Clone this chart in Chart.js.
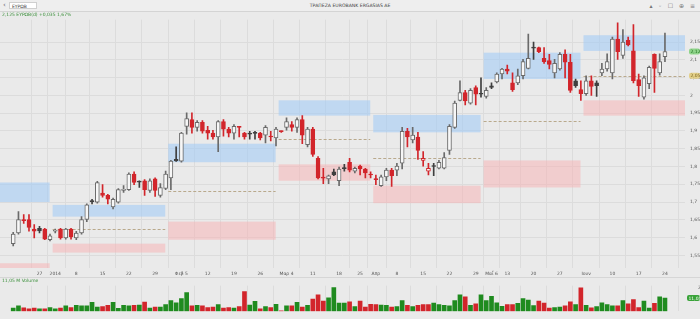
<!DOCTYPE html>
<html>
<head>
<meta charset="utf-8">
<script src="https://cdn.jsdelivr.net/npm/chart.js@4.4.0/dist/chart.umd.min.js"></script>
<style>
  html, body { margin: 0; padding: 0; }
  body { width: 700px; height: 319px; overflow: hidden; background: #eaeaea; font-family: "DejaVu Sans", sans-serif; position: relative; }
  #bar { position: absolute; left: 0; top: 0; width: 700px; height: 11px; background: #eeeeee; border-bottom: 1px solid #d4d4d4; }
  #back { position: absolute; left: 3px; top: 1px; font-size: 7px; color: #666; }
  #search { position: absolute; left: 9px; top: 2px; width: 28px; height: 7px; background: #fff; border: 1px solid #cfcfcf; font-size: 4.5px; line-height: 7px; padding-left: 2px; box-sizing: border-box; color: #444; }
  #title { position: absolute; left: 0; width: 700px; top: 3px; text-align: center; font-size: 4.6px; color: #444; }
  #icons { position: absolute; right: 3px; top: 2px; font-size: 6px; color: #777; letter-spacing: 2px; }
  #quote { position: absolute; left: 2px; top: 12px; font-size: 4.5px; color: #3a8f3a; z-index: 2; }
  canvas { position: absolute; left: 0; display: block; }
  #price { top: 12px; }
  #vol { top: 278px; }
  #sep { position: absolute; left: 0; top: 277px; width: 700px; height: 1px; background: #d6d6d6; }
  #vol-label { position: absolute; left: 2px; top: 278px; font-size: 4.5px; color: #3a8f3a; z-index: 2; }
</style>
</head>
<body>
<div id="bar">
  <span id="back">&#8249;</span>
  <div id="search">ΕΥΡΩΒ</div>
  <div id="title">ΤΡΑΠΕΖΑ EUROBANK ERGASIAS ΑΕ</div>
  <div id="icons">▴ ◦ ☐ ⊕ ≡</div>
</div>
<div id="quote">2,125 ΕΥΡΩΒ(d) +0,035 1,67%</div>
<canvas id="price" width="700" height="266"></canvas>
<div id="sep"></div>
<canvas id="vol" width="700" height="41"></canvas>
<div id="vol-label">11,05 M Volume</div>
<script>
// daily bars, Dec 2013 - Jun 2014
const opens = [
  1.583, 1.613, 1.651, 1.651, 1.624, 1.626, 1.624, 1.594, 1.618, 1.624,
  1.599, 1.624, 1.599, 1.613, 1.651, 1.703, 1.700, 1.725, 1.719, 1.686,
  1.700, 1.733, 1.735, 1.779, 1.757, 1.760, 1.733, 1.765, 1.719, 1.738,
  1.768, 1.820, 1.815, 1.913, 1.932, 1.910, 1.924, 1.902, 1.894, 1.883,
  1.926, 1.905, 1.894, 1.913, 1.894, 1.894, 1.894, 1.894, 1.888, 1.885,
  1.880, 1.899, 1.910, 1.918, 1.910, 1.932, 1.861, 1.905, 1.823, 1.770,
  1.765, 1.785, 1.760, 1.795, 1.812, 1.787, 1.801, 1.793, 1.777, 1.764,
  1.746, 1.771, 1.790, 1.790, 1.809, 1.899, 1.875, 1.883, 1.817, 1.787,
  1.802, 1.795, 1.795, 1.845, 1.910, 1.986, 2.008, 1.978, 2.022, 2.004,
  1.997, 2.027, 2.038, 2.060, 2.074, 2.035, 2.035, 2.055, 2.076, 2.134,
  2.134, 2.104, 2.098, 2.063, 2.074, 2.115, 2.093, 2.041, 2.016, 2.005,
  2.041, 2.035, 2.063, 2.074, 2.063, 2.158, 2.112, 2.155, 2.125, 2.044,
  1.995, 2.033, 2.115, 2.063, 2.109
];
const highs = [
  1.615, 1.673, 1.665, 1.665, 1.637, 1.632, 1.626, 1.610, 1.624, 1.626,
  1.626, 1.626, 1.618, 1.659, 1.695, 1.708, 1.758, 1.749, 1.722, 1.711,
  1.738, 1.746, 1.782, 1.785, 1.760, 1.763, 1.765, 1.768, 1.752, 1.787,
  1.817, 1.855, 1.896, 1.951, 1.951, 1.929, 1.929, 1.913, 1.902, 1.929,
  1.932, 1.910, 1.918, 1.913, 1.896, 1.899, 1.899, 1.896, 1.915, 1.899,
  1.910, 1.900, 1.937, 1.926, 1.937, 1.943, 1.910, 1.910, 1.828, 1.795,
  1.776, 1.793, 1.798, 1.806, 1.823, 1.798, 1.804, 1.795, 1.785, 1.776,
  1.776, 1.795, 1.795, 1.809, 1.910, 1.907, 1.910, 1.896, 1.842, 1.809,
  1.809, 1.817, 1.839, 1.918, 1.984, 2.041, 2.014, 2.019, 2.027, 2.049,
  2.022, 2.035, 2.063, 2.076, 2.085, 2.063, 2.074, 2.101, 2.172, 2.150,
  2.136, 2.134, 2.115, 2.101, 2.120, 2.128, 2.115, 2.046, 2.041, 2.055,
  2.055, 2.041, 2.090, 2.117, 2.164, 2.204, 2.185, 2.164, 2.199, 2.060,
  2.055, 2.082, 2.117, 2.117, 2.175
];
const lows = [
  1.577, 1.610, 1.640, 1.618, 1.599, 1.613, 1.594, 1.591, 1.613, 1.596,
  1.596, 1.596, 1.594, 1.610, 1.645, 1.695, 1.697, 1.714, 1.695, 1.681,
  1.697, 1.727, 1.733, 1.749, 1.741, 1.719, 1.727, 1.716, 1.714, 1.735,
  1.735, 1.814, 1.812, 1.891, 1.894, 1.899, 1.894, 1.877, 1.877, 1.842,
  1.885, 1.883, 1.877, 1.883, 1.877, 1.877, 1.877, 1.875, 1.866, 1.872,
  1.858, 1.896, 1.902, 1.899, 1.896, 1.864, 1.855, 1.828, 1.765, 1.752,
  1.752, 1.774, 1.746, 1.787, 1.785, 1.782, 1.776, 1.768, 1.768, 1.749,
  1.744, 1.760, 1.744, 1.774, 1.793, 1.855, 1.866, 1.820, 1.801, 1.776,
  1.774, 1.793, 1.793, 1.834, 1.907, 1.984, 1.973, 1.975, 1.973, 1.995,
  1.992, 2.019, 2.035, 2.046, 2.060, 2.011, 2.030, 2.046, 2.074, 2.101,
  2.120, 2.090, 2.074, 2.049, 2.071, 2.049, 2.008, 2.022, 1.986, 2.000,
  2.000, 1.997, 2.055, 2.068, 2.046, 2.101, 2.104, 2.139, 2.035, 1.997,
  1.989, 2.019, 2.008, 2.057, 2.095
];
const closes = [
  1.610, 1.651, 1.648, 1.629, 1.618, 1.619, 1.596, 1.605, 1.619, 1.599,
  1.624, 1.602, 1.613, 1.651, 1.692, 1.701, 1.755, 1.719, 1.708, 1.708,
  1.735, 1.736, 1.779, 1.755, 1.756, 1.735, 1.760, 1.733, 1.741, 1.779,
  1.815, 1.816, 1.894, 1.935, 1.910, 1.924, 1.899, 1.894, 1.883, 1.926,
  1.905, 1.894, 1.913, 1.910, 1.883, 1.891, 1.893, 1.880, 1.910, 1.883,
  1.905, 1.898, 1.926, 1.910, 1.932, 1.888, 1.905, 1.834, 1.768, 1.767,
  1.774, 1.776, 1.793, 1.794, 1.790, 1.795, 1.793, 1.782, 1.776, 1.763,
  1.771, 1.790, 1.774, 1.801, 1.899, 1.883, 1.888, 1.845, 1.823, 1.795,
  1.800, 1.812, 1.825, 1.913, 1.978, 2.008, 1.984, 2.014, 2.003, 2.003,
  2.014, 2.022, 2.060, 2.074, 2.068, 2.016, 2.055, 2.095, 2.104, 2.133,
  2.123, 2.095, 2.087, 2.090, 2.115, 2.093, 2.014, 2.027, 2.005, 2.041,
  2.025, 2.027, 2.074, 2.095, 2.158, 2.123, 2.150, 2.142, 2.041, 2.027,
  2.049, 2.079, 2.076, 2.095, 2.123
];
// volume in millions
const volumes = [
  2.7, 4.5, 3.0, 2.1, 2.7, 2.1, 2.1, 3.2, 2.1, 2.7,
  4.5, 3.2, 5.0, 4.5, 4.5, 7.5, 3.6, 3.9, 5.0, 7.5,
  2.5, 5.0, 4.5, 5.0, 5.3, 7.7, 2.7, 3.6, 3.6, 5.7,
  8.9, 7.1, 10.7, 15.7, 4.5, 5.0, 4.5, 3.2, 3.6, 5.7,
  2.7, 3.2, 2.7, 3.9, 16.4, 5.3, 8.4, 2.1, 3.9, 3.2,
  5.9, 0.4, 4.5, 4.5, 7.5, 3.6, 5.0, 10.3, 13.7, 8.5,
  11.2, 19.9, 6.8, 6.8, 8.0, 3.9, 8.5, 3.6, 5.9, 5.7,
  5.3, 5.0, 3.6, 3.9, 8.9, 5.0, 3.9, 5.0, 5.7, 5.7,
  6.8, 5.7, 5.0, 4.5, 8.9, 13.7, 12.1, 5.0, 6.2, 13.7,
  8.9, 12.5, 7.1, 4.1, 5.7, 5.7, 6.6, 10.7, 9.3, 4.8,
  8.5, 6.8, 2.7, 3.2, 3.6, 4.5, 8.0, 5.7, 19.6, 5.0,
  3.0, 3.9, 7.1, 5.7, 4.5, 4.5, 8.9, 6.2, 9.8, 3.2,
  8.5, 2.7, 6.6, 12.1, 11.05
];
// x axis labels (bar index -> text)
const tickBars = [5, 8, 12, 17, 22, 27, 32, 37, 42, 47, 52, 57, 62, 66, 69, 73, 78, 83, 88, 91, 94, 99, 104, 109, 114, 119, 124];
const tickText = ['27', '2014', '8', '15', '22', '29', 'Φεβ 5', '12', '19', '26', 'Μαρ 4', '11', '18', '25', 'Απρ', '8', '15', '22', '29', 'Μαΐ 6', '13', '20', '27', 'Ιουν', '10', '17', '24'];
const priceTicks = [1.55, 1.6, 1.65, 1.7, 1.75, 1.8, 1.85, 1.9, 1.95, 2, 2.05, 2.1, 2.15];

// monthly pivot zones: first bar of each month, blue (R) band, pivot, pink (S) band
const monthFirstBar = [-20, 8, 30, 51, 69, 90, 109];
const resistTop = [1.755, 1.692, 1.864, 1.986, 1.945, 2.120, 2.169];
const resistBottom = [1.700, 1.659, 1.812, 1.943, 1.896, 2.046, 2.125];
const pivotLevel = [null, 1.624, 1.730, 1.877, 1.823, 1.929, 2.055];
const supportTop = [1.528, 1.583, 1.645, 1.806, 1.746, 1.817, 1.986];
const supportBottom = [1.500, 1.558, 1.594, 1.760, 1.697, 1.741, 1.943];

const X_MIN = -0.1, X_MAX = 125.4;
const RED = '#d2252b', GRAY = '#6a6a6a', DARK = '#3f3f3f', HOLLOW = '#f7f7f7', GREEN = '#1f8b1f';
const GRID = '#dcdcdc';

const bars = closes.map((_, i) => i);
const rising = bars.map(i => closes[i] >= opens[i]);
const gained = bars.map(i => i === 0 ? rising[i] : closes[i] >= closes[i - 1]);
const bodyFill = bars.map(i => rising[i] ? HOLLOW : (gained[i] ? DARK : RED));
const lineColor = bars.map(i => gained[i] ? (rising[i] ? GRAY : DARK) : RED);

const fmt = v => String(+v.toFixed(3)).replace('.', ',');

const pivotZones = {
    id: 'pivotZones',
    beforeDatasetsDraw(chart) {
        const { ctx, chartArea: a, scales: { x, y } } = chart;
        ctx.save();
        ctx.beginPath();
        ctx.rect(a.left, a.top, a.width, a.height);
        ctx.clip();
        monthFirstBar.forEach((first, m) => {
            const x0 = x.getPixelForValue(first - 0.5);
            const x1 = m + 1 < monthFirstBar.length ? x.getPixelForValue(monthFirstBar[m + 1] - 0.5) - 3 : a.right;
            let t = y.getPixelForValue(resistTop[m]), b = y.getPixelForValue(resistBottom[m]);
            ctx.fillStyle = 'rgba(163, 204, 245, 0.6)';
            ctx.fillRect(x0, t, x1 - x0, b - t);
            t = y.getPixelForValue(supportTop[m]);
            b = y.getPixelForValue(supportBottom[m]);
            ctx.fillStyle = 'rgba(245, 180, 182, 0.55)';
            ctx.fillRect(x0, t, x1 - x0, b - t);
            if (pivotLevel[m] !== null) {
                const py = Math.round(y.getPixelForValue(pivotLevel[m])) + 0.5;
                ctx.strokeStyle = '#b9a98c';
                ctx.lineWidth = 1;
                ctx.setLineDash([3, 2]);
                ctx.beginPath();
                ctx.moveTo(x0, py);
                ctx.lineTo(x1, py);
                ctx.stroke();
                ctx.setLineDash([]);
            }
        });
        ctx.restore();
    }
};

function drawTag(ctx, left, yc, text, fill, color) {
    ctx.fillStyle = fill;
    ctx.beginPath();
    ctx.roundRect(left, yc - 3, 700 - left, 6, 2);
    ctx.fill();
    ctx.fillStyle = color;
    ctx.font = '4.5px "DejaVu Sans"';
    ctx.textAlign = 'left';
    ctx.textBaseline = 'middle';
    ctx.fillText(text, left + 1.5, yc + 0.3);
}

const priceTags = {
    id: 'priceTags',
    afterDraw(chart) {
        const { ctx, chartArea: a, scales: { y } } = chart;
        const last = closes[closes.length - 1];
        const piv = pivotLevel[pivotLevel.length - 1];
        ctx.save();
        drawTag(ctx, a.right + 4, y.getPixelForValue(last), fmt(last), '#8fd48a', '#1d6b1d');
        drawTag(ctx, a.right + 4, y.getPixelForValue(piv), fmt(piv), '#e3d08a', '#7a6320');
        ctx.restore();
    }
};

const volTag = {
    id: 'volTag',
    afterDraw(chart) {
        const { ctx, chartArea: a, scales: { y } } = chart;
        const last = volumes[volumes.length - 1];
        ctx.save();
        drawTag(ctx, a.right + 2, y.getPixelForValue(last), fmt(last) + ' M', '#39a339', '#ffffff');
        ctx.restore();
    }
};

new Chart(document.getElementById('price'), {
    type: 'bar',
    data: {
        datasets: [{
            label: 'body',
            data: bars.map(i => ({ x: i, y: [Math.min(opens[i], closes[i]), Math.max(opens[i], closes[i])] })),
            backgroundColor: bodyFill,
            borderColor: lineColor,
            borderWidth: 1,
            borderSkipped: false,
            barThickness: 4,
            minBarLength: 1,
            grouped: false,
            order: 0
        }, {
            label: 'wick',
            data: bars.map(i => ({ x: i, y: [lows[i], highs[i]] })),
            backgroundColor: lineColor,
            borderWidth: 0,
            barThickness: 1,
            grouped: false,
            order: 1
        }]
    },
    options: {
        responsive: false,
        animation: false,
        devicePixelRatio: 1,
        layout: { padding: 0 },
        plugins: { legend: { display: false }, tooltip: { enabled: false } },
        scales: {
            x: {
                type: 'linear',
                min: X_MIN,
                max: X_MAX,
                grid: { color: GRID, drawTicks: false },
                border: { display: false },
                afterBuildTicks: ax => { ax.ticks = tickBars.map(v => ({ value: v })); },
                afterFit: ax => { ax.height = 10; },
                ticks: {
                    autoSkip: false,
                    maxRotation: 0,
                    padding: 3,
                    font: { size: 4.5, family: 'DejaVu Sans' },
                    color: '#555',
                    callback: v => tickText[tickBars.indexOf(v)]
                }
            },
            y: {
                position: 'right',
                min: 1.5146,
                max: 2.2127,
                grid: { color: GRID, drawTicks: false },
                border: { display: false },
                afterBuildTicks: ax => { ax.ticks = priceTicks.map(v => ({ value: v })); },
                afterFit: ax => { ax.width = 15; },
                ticks: {
                    padding: 5,
                    font: { size: 4.5, family: 'DejaVu Sans' },
                    color: '#555',
                    callback: v => fmt(v)
                }
            }
        }
    },
    plugins: [pivotZones, priceTags]
});

new Chart(document.getElementById('vol'), {
    type: 'bar',
    data: {
        datasets: [{
            label: 'Volume',
            data: bars.map(i => ({ x: i, y: volumes[i] })),
            backgroundColor: bars.map(i => gained[i] ? GREEN : RED),
            borderWidth: 0,
            barThickness: 4
        }]
    },
    options: {
        responsive: false,
        animation: false,
        devicePixelRatio: 1,
        layout: { padding: { bottom: 2 } },
        plugins: { legend: { display: false }, tooltip: { enabled: false } },
        scales: {
            x: {
                type: 'linear',
                min: X_MIN,
                max: X_MAX,
                grid: { color: GRID, drawTicks: false },
                border: { display: false },
                afterBuildTicks: ax => { ax.ticks = tickBars.map(v => ({ value: v })); },
                afterFit: ax => { ax.height = 0; },
                ticks: { display: false }
            },
            y: {
                position: 'right',
                min: 0,
                max: 21.4,
                grid: { display: false },
                border: { display: false },
                afterBuildTicks: ax => { ax.ticks = [{ value: 20 }]; },
                afterFit: ax => { ax.width = 15; },
                ticks: {
                    padding: 5,
                    font: { size: 4.5, family: 'DejaVu Sans' },
                    color: '#555',
                    callback: v => v + ' M'
                }
            }
        }
    },
    plugins: [volTag]
});
</script>
</body>
</html>
